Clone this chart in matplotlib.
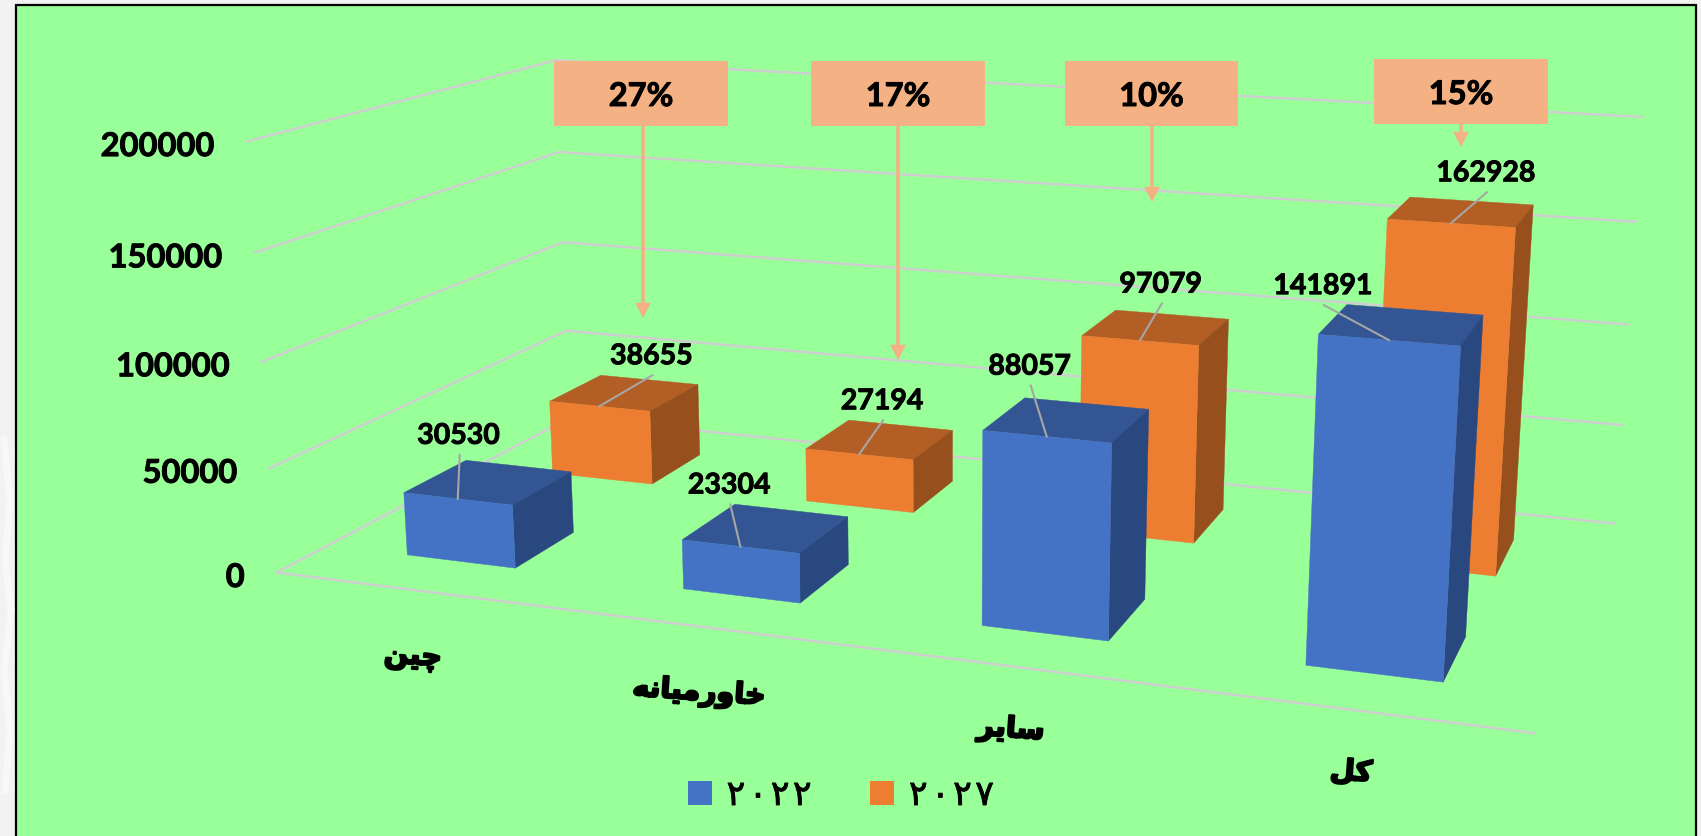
import numpy as np
import matplotlib
matplotlib.use("Agg")
import matplotlib.pyplot as plt
import matplotlib.patheffects as pe
from matplotlib.patches import Polygon, Rectangle, Patch

categories = ["چین", "خاورمیانه", "سایر", "کل"]
series_names = ["۲۰۲۲", "۲۰۲۷"]
values_2022 = [30530, 23304, 88057, 141891]
values_2027 = [38655, 27194, 97079, 162928]
growth = ["27%", "17%", "10%", "15%"]
yticks = [0, 50000, 100000, 150000, 200000]

# colours of the faces: front, top, side
blue = ["#4472C4", "#335593", "#2A4880"]
orange = ["#ED7D31", "#B35E24", "#964F1D"]
callout = "#F4B183"
grid = "#CFCFCF"
leader = "#A6A6A6"

# layout, in pixels
leader_2022 = [(2, -44), (-10, -42), (-16, -51), (-65, -35)]
leader_2027 = [(53, -31), (24, -34), (22, -37), (36, -31)]
cat_xy = [(413, 657), (699, 693), (1011, 730), (1351, 772)]
boxes = [(554, 61, 174, 65), (811, 61, 174, 65), (1065, 61, 173, 65), (1374, 59, 174, 65)]
arrow_x = [643, 898, 1152, 1461]
arrow_tip = [318, 360, 202, 147]

# forms: isolated, final, initial, medial
FORMS = {"چ": "\uFB7A\uFB7B\uFB7C\uFB7D", "ی": "\uFBFC\uFBFD\uFBFE\uFBFF", "ن": "\uFEE5\uFEE6\uFEE7\uFEE8",
         "خ": "\uFEA5\uFEA6\uFEA7\uFEA8", "ا": "\uFE8D\uFE8E", "و": "\uFEED\uFEEE", "ر": "\uFEAD\uFEAE",
         "م": "\uFEE1\uFEE2\uFEE3\uFEE4", "ه": "\uFEE9\uFEEA\uFEEB\uFEEC", "س": "\uFEB1\uFEB2\uFEB3\uFEB4",
         "ک": "\uFB8E\uFB8F\uFB90\uFB91", "ل": "\uFEDD\uFEDE\uFEDF\uFEE0"}


# matplotlib has no arabic shaping, so pick the joined forms and reverse
def shape(word):
    out = []
    for i, c in enumerate(word):
        before = i > 0 and len(FORMS[word[i - 1]]) == 4
        after = i < len(word) - 1
        f = FORMS[c]
        if len(f) == 2:
            out.append(f[1] if before else f[0])
        elif before and after:
            out.append(f[3])
        elif before:
            out.append(f[1])
        elif after:
            out.append(f[2])
        else:
            out.append(f[0])
    return "".join(reversed(out))


# camera: world (category, depth, value) -> pixel, solved from the cage corners
cage = [(0, 0, 0, 277, 572), (0, 0, 1, 246, 142), (0, 0, .5, 262, 362),
        (0, 2, 0, 569, 418), (0, 2, 1, 556, 60), (0, 2, .5, 563.5, 242),
        (4, 2, 0, 1615, 524), (4, 2, 1, 1643, 117), (4, 2, .5, 1628, 324),
        (4, 0, 0, 1535, 733)]
A, b = [], []
for x, y, z, u, v in cage:
    A.append([x, y, z, 1, 0, 0, 0, 0, -u * x, -u * y, -u * z])
    A.append([0, 0, 0, 0, x, y, z, 1, -v * x, -v * y, -v * z])
    b += [u, v]
p = np.linalg.lstsq(np.array(A, float), np.array(b, float), rcond=None)[0]
P = np.append(p, 1).reshape(3, 4)


def project(x, y, z):
    r = P @ np.array([x, y, z / 200000, 1.0])
    return r[0] / r[2], r[1] / r[2]


plt.rcParams["font.family"] = ["Lato", "DejaVu Sans"]
heavy = [pe.withStroke(linewidth=0.7, foreground="black")]
fig = plt.figure(figsize=(17.01, 8.36), dpi=100, facecolor="#F2F2F2")
ax = fig.add_axes([0, 0, 1, 1])
ax.set_xlim(0, 1701)
ax.set_ylim(836, 0)
ax.axis("off")
ax.add_patch(Rectangle((16, 5), 1680, 850, fc="#99FF99", ec="black", lw=1.6, zorder=0))

# faint veins of the slide behind the chart
ax.plot([4, 10, 5, 11, 4, 10, 5], [440, 500, 560, 610, 670, 730, 790], color="#F8F8F8", lw=5, zorder=0)

# walls and floor
for v in yticks:
    pts = [project(0, 0, v), project(0, 2, v), project(4, 2, v)]
    ax.plot(*zip(*pts), color=grid, lw=1.8, zorder=1, solid_joinstyle="miter")
    x0, y0 = pts[0]
    ax.text(x0 - 32, y0 + 5, str(v), ha="right", va="center", fontsize=23.5, fontweight="bold", path_effects=heavy,
            zorder=6)
ax.plot(*zip(project(0, 0, 0), project(4, 0, 0)), color=grid, lw=1.8, zorder=1)


def bar(i, d, value, cols, order):
    x0, x1 = i + 0.3, i + 0.7
    y0, y1 = d + 0.3, d + 0.7
    front = [project(x0, y0, 0), project(x1, y0, 0), project(x1, y0, value), project(x0, y0, value)]
    side = [project(x1, y0, 0), project(x1, y1, 0), project(x1, y1, value), project(x1, y0, value)]
    top = [project(x0, y0, value), project(x1, y0, value), project(x1, y1, value), project(x0, y1, value)]
    for pts, c in zip((top, side, front), (cols[1], cols[2], cols[0])):
        ax.add_patch(Polygon(pts, closed=True, fc=c, ec=c, lw=0.3, zorder=order))


for i, v in enumerate(values_2027):
    bar(i, 1, v, orange, 2)
for i, v in enumerate(values_2022):
    bar(i, 0, v, blue, 3)

# data labels with their leader lines
for vals, d, offs in ((values_2027, 1, leader_2027), (values_2022, 0, leader_2022)):
    for i, v in enumerate(vals):
        ex, ey = project(i + 0.5, d + 0.3, v)
        sx, sy = ex + offs[i][0], ey + offs[i][1]
        ax.plot([ex, sx], [ey, sy], color=leader, lw=1.5, zorder=4)
        ax.text(sx - 1, sy - 19, str(v), ha="center", va="center", fontsize=20.5, fontweight="bold", path_effects=heavy,
                zorder=6)

# growth callouts
for g, (x, y, w, h), ax_x, tip in zip(growth, boxes, arrow_x, arrow_tip):
    ax.add_patch(Rectangle((x, y), w, h, fc=callout, ec="none", zorder=5))
    ax.annotate("", xy=(ax_x, tip), xytext=(ax_x, y + h),
                arrowprops=dict(width=2.6, headwidth=11.5, headlength=11, fc=callout, ec="none", shrink=0),
                zorder=5)
    ax.text(x + w / 2, y + h / 2 + 3, g, ha="center", va="center", fontsize=23.5, fontweight="bold", path_effects=heavy,
            zorder=6)

# category labels
for c, (x, y) in zip(categories, cat_xy):
    ax.text(x, y, shape(c), ha="center", va="center", fontsize=20.5, fontweight="bold", rotation=-4,
            family=["DejaVu Sans"], path_effects=[pe.withStroke(linewidth=1.6, foreground="black")], zorder=6)

handles = [Patch(fc=blue[0], ec="none"), Patch(fc=orange[0], ec="none")]
# hair space: the digits stand further apart in the original
labels = ["\u200a".join(s) for s in series_names]
leg = ax.legend(handles, labels, loc="center", bbox_to_anchor=(841, 795), bbox_transform=ax.transData,
                ncol=2, frameon=False, handlelength=0.69, handleheight=0.69, handletextpad=0.43, columnspacing=1.67,
                prop={"family": ["DejaVu Sans"], "size": 25})
for t in leg.get_texts():
    t.set_path_effects([pe.withStroke(linewidth=0.6, foreground="black")])

fig.savefig("out.png", dpi=100, facecolor=fig.get_facecolor())
